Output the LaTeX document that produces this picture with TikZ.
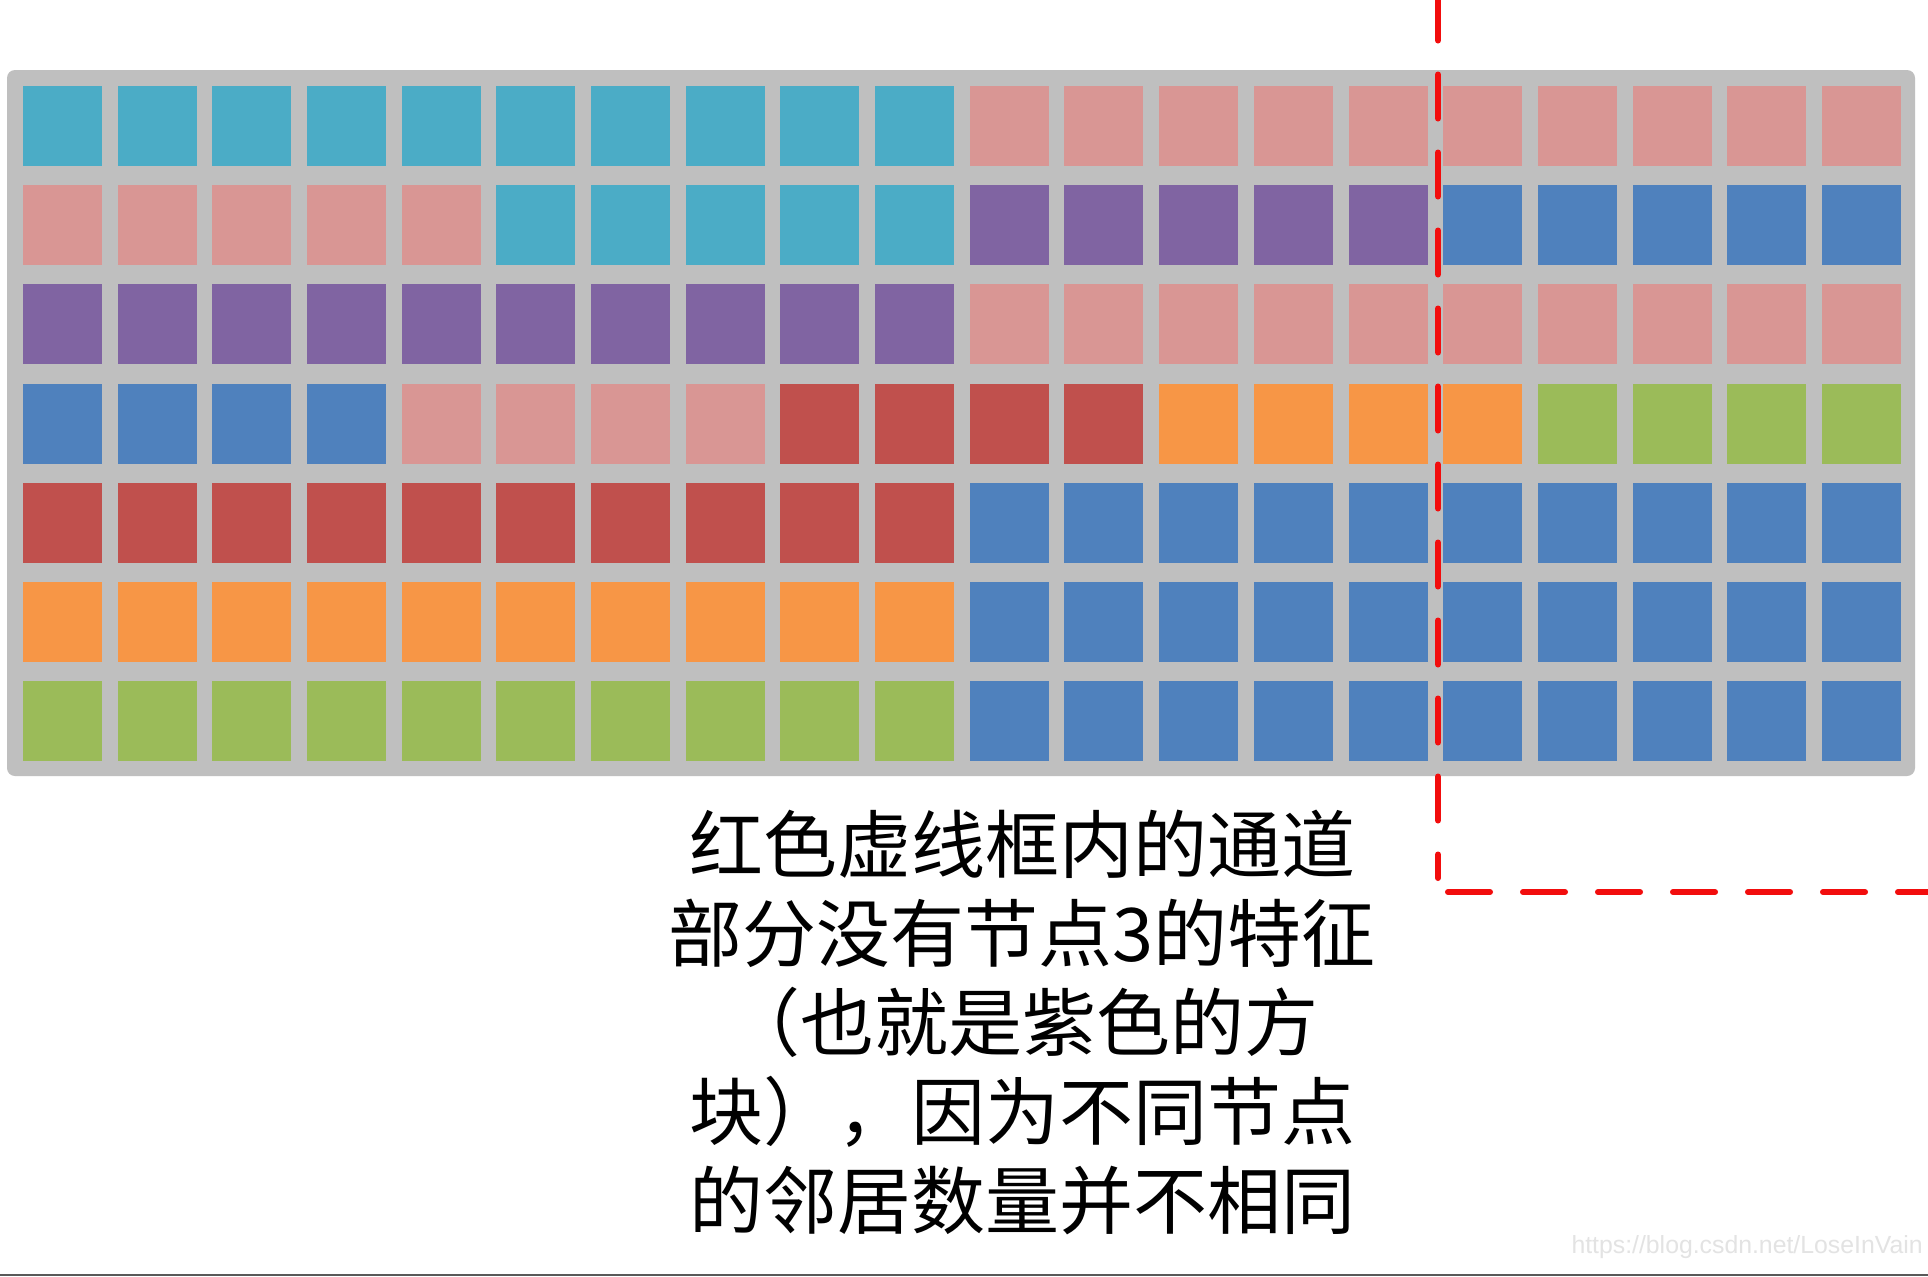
\documentclass[tikz,border=0pt]{standalone}
\usepackage{fontspec}
\newfontfamily\cjk{Noto Sans CJK SC}
\newfontfamily\wmfont{Liberation Sans}
\definecolor{cyanB}{HTML}{4BACC6}
\definecolor{pinkB}{HTML}{D99694}
\definecolor{purpleB}{HTML}{8064A2}
\definecolor{blueB}{HTML}{4F81BD}
\definecolor{redB}{HTML}{C0504D}
\definecolor{orangeB}{HTML}{F79646}
\definecolor{greenB}{HTML}{9BBB59}
\definecolor{panelGray}{HTML}{BFBFBF}
\definecolor{dashRed}{HTML}{F20D0D}
\begin{document}
\begin{tikzpicture}[x=0.5pt,y=-0.5pt,
  sq/.style={draw=none, minimum width=39.5pt, minimum height=40pt, inner sep=0pt, outer sep=0pt},
  redbox/.style={draw=dashRed, line width=3pt, line cap=round, dash pattern=on 22pt off 17pt},
  redboxh/.style={draw=dashRed, line width=3pt, line cap=round, dash pattern=on 21pt off 16.5pt},
  caption/.style={font=\cjk\fontsize{37pt}{44.5pt}\selectfont, align=center, inner sep=0pt, text=black}]
\useasboundingbox (0,0) rectangle (1928,1276);
\fill[white] (0,0) rectangle (1928,1276);
% panel
\node[fill=panelGray, rounded corners=4pt, minimum width=954pt, minimum height=353pt,
      anchor=north west, inner sep=0pt, outer sep=0pt] (panel) at (7,70) {};
% squares
\foreach \r/\a/\b/\col in {1/1/10/cyanB, 1/11/20/pinkB,
  2/1/5/pinkB, 2/6/10/cyanB, 2/11/15/purpleB, 2/16/20/blueB,
  3/1/10/purpleB, 3/11/20/pinkB,
  4/1/4/blueB, 4/5/8/pinkB, 4/9/12/redB, 4/13/16/orangeB, 4/17/20/greenB,
  5/1/10/redB, 5/11/20/blueB,
  6/1/10/orangeB, 6/11/20/blueB,
  7/1/10/greenB, 7/11/20/blueB}
{
  \foreach \c in {\a,...,\b}
    \node[sq, fill=\col] (s-\r-\c) at ({62.5+94.68*(\c-1)}, {126+99.2*(\r-1)}) {};
}
% red dashed frame
\coordinate (fTL) at (1438,-3.5);
\coordinate (fTR) at (1945,-3.5);
\coordinate (fBL) at (1438,878);
\coordinate (fHL) at (1448,892);
\coordinate (fBR) at (1945,892);
\draw[redbox] (fTL) -- (fBL);
\draw[redboxh] (fHL) -- (fBR);
\draw[redboxh] (fTL) -- (fTR);
% caption
\node[caption] (cap) at (1022,1022) {红色虚线框内的通道\\部分没有节点3的特征\\（也就是紫色的方\\块），因为不同节点\\的邻居数量并不相同};
% watermark
\node[font=\wmfont\fontsize{12.4pt}{12.4pt}\selectfont, text=black!11, anchor=east, inner sep=0pt] (wm) at (1923,1247) {https://blog.csdn.net/LoseInVain};
% bottom rule
\coordinate (bl) at (0,1275);
\coordinate (br) at (1928,1275);
\draw[line width=1.2pt, black!65] (bl) -- (br);
\end{tikzpicture}
\end{document}
